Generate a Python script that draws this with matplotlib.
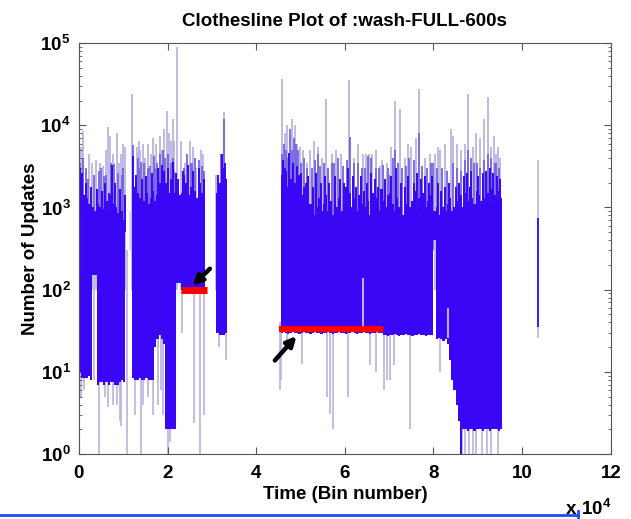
import numpy as np
import matplotlib.pyplot as plt
from matplotlib.ticker import FixedLocator, FuncFormatter, LogLocator, NullFormatter
from matplotlib.lines import Line2D

plt.rcParams['font.family'] = ['Liberation Sans', 'DejaVu Sans']
plt.rcParams['mathtext.fontset'] = 'custom'
plt.rcParams['mathtext.rm'] = 'Liberation Sans'
plt.rcParams['mathtext.bf'] = 'Liberation Sans:bold'

# x in units of 10^4 bins, dense band sampled every 0.05
step = 0.05

# segment start positions
seg_starts = [0.0, 1.20, 3.10, 4.55]

# dense band tops / bottoms per segment
hi_a = [2200, 1600, 1400, 1300, 1100, 1200, 1000, 900, 1100, 1000, 800,
        950, 1200, 900, 1400, 1100, 1000, 850, 1200, 900, 700]
lo_a = [10, 8.5, 8.5, 8.5, 9, 8, 150, 150, 7, 7.5, 7.5,
        7, 7.5, 7, 7.5, 7.5, 7, 7, 7.5, 8, 7.5]

hi_b = [2500, 1800, 1500, 1300, 1400, 1200, 1500, 1100, 1300, 1600,
        1200, 1400, 2000, 1800, 2500, 2000, 1500, 2200, 1700, 1500, 1800, 1400,
        1500, 2500, 2000, 1400, 1800, 2200, 1600, 1300, 2000, 1500, 1200]
lo_b = [8.5, 8, 8, 8.5, 8, 8, 8.5, 8, 8, 8,
        20, 25, 28, 25, 22, 2, 2, 2, 2, 2, 120, 120,
        100, 100, 100, 100, 100, 100, 100, 100, 100, 100, 100]

hi_d = [1500, 2000, 2500, 3000, 2200]
lo_d = [30, 28, 28, 28, 30]

hi_e = [2500, 2000, 2800,
        1800, 2200, 1500, 2000, 1600, 2500, 1400, 1800,
        1200, 900, 1100, 1500, 800, 1000, 1300, 900, 1100, 1400,
        900, 1200, 800, 1600, 1000, 1300, 900, 1100,
        1800, 1200, 1500, 1000, 1300, 900, 1400, 1100, 1600, 1000,
        1200, 800, 1500, 1100, 1300, 900, 1700, 1200, 1000, 1400,
        1500, 1100, 900, 1300, 1000, 1200, 800, 1100, 1400, 1000,
        1200, 1600, 900, 1300, 1100, 1500, 1000, 1200, 1400, 1100,
        900, 1000, 800, 1200, 1000, 900, 1100, 1300, 900, 1000, 1200, 1100, 1400, 1000,
        1500, 1200, 1800, 1300, 1100, 1600, 1400, 1200, 1900, 1300, 1500, 1100,
        1700, 1400, 1200, 1600, 1300]
lo_e = [30, 31, 30, 29, 30, 31, 30, 30, 29, 30,
        31, 30, 30, 29, 30, 31, 30, 30, 29, 30,
        30, 31, 30, 29, 30, 30, 31, 30, 30, 29,
        30, 30, 31, 30, 29, 30, 30, 31, 30, 30,
        29, 30, 30, 31, 30, 30, 28, 28, 27, 28,
        28, 29, 28, 27, 28, 28, 29, 28, 28, 27,
        28, 28, 29, 28, 28, 27, 28, 28, 28,
        400, 25, 26, 25, 24, 25, 22, 14, 8, 6, 4, 2.5,
        1, 2, 2, 1.9, 2, 2, 1.9, 2, 2, 2,
        1.9, 2, 2, 1.9, 2, 2, 2, 1.9, 2]

# dark single columns poking above the band
peak_x = [0.02, 0.08, 0.17, 0.27, 0.41, 0.52, 0.58, 0.68, 0.74, 0.82, 0.93, 1.03,
          1.22, 1.28, 1.42, 1.52, 1.66, 1.78, 1.88, 1.93, 2.02, 2.12, 2.18, 2.24,
          2.34, 2.46, 2.58, 2.71, 2.83, 3.14, 3.24, 3.30,
          4.60, 4.66, 4.74, 4.82, 4.92, 5.02, 5.12, 5.18, 5.28, 5.36, 5.46, 5.55,
          5.64, 5.78, 5.88, 5.98, 6.08, 6.18, 6.26, 6.36, 6.50, 6.58, 6.68, 6.75,
          6.90, 7.05, 7.16, 7.26, 7.35, 7.42, 7.55, 7.62, 7.72, 7.80, 7.90, 7.96,
          8.10, 8.18, 8.27, 8.36, 8.50, 8.58, 8.68, 8.75, 8.85, 9.00, 9.12, 9.18,
          9.27, 9.35, 9.44, 9.51]
peak_top = [3000, 2600, 2000, 1800, 1700, 1600, 2000, 1500, 3300, 2000, 1700, 1400,
            4200, 2500, 2200, 2400, 2600, 3000, 3300, 2800, 3000, 3600, 2600, 2200,
            2800, 3300, 2800, 3000, 2200, 2500, 4500, 3500,
            3800, 3000, 4600, 3500, 3200, 2600, 2000, 2400, 1800, 2600, 2000, 2400,
            2000, 2400, 2200, 2000, 3000, 2400, 1800, 2400, 2000, 2600, 2200, 1800,
            2200, 2400, 3000, 2000, 1800, 2400, 2000, 2600, 2200, 2400, 2000, 2400,
            2000, 1600, 1800, 2000, 1800, 2000, 2400, 2600, 2800, 2400, 2600, 2800,
            3000, 2600, 2400, 2200]

# medium-density columns above the band
mid_x = [0.03, 0.10, 0.15, 0.20, 0.33, 0.45, 0.50, 0.57, 0.62, 0.72, 0.80, 0.88, 0.97, 1.00,
         1.23, 1.33, 1.35, 1.40, 1.48, 1.57, 1.60, 1.69, 1.72, 1.77, 1.83, 1.90,
         1.95, 2.00, 2.08, 2.12, 2.15,
         2.38, 2.43, 2.52, 2.56, 2.63, 2.70, 2.78, 2.82, 3.20, 3.27,
         4.58, 4.63, 4.68, 4.72, 4.76, 4.80, 4.86, 4.90, 4.95, 5.00, 5.08, 5.15,
         5.25, 5.32, 5.40, 5.45, 5.52, 5.62, 5.70, 5.76, 5.85, 5.95, 6.04, 6.11,
         6.20, 6.30, 6.38, 6.45, 6.52, 6.60, 6.70, 6.78, 6.85, 6.97, 7.00, 7.08,
         7.13, 7.20, 7.30, 7.38, 7.45, 7.55, 7.67, 7.75, 7.85, 7.95, 8.00, 8.08,
         8.20, 8.30, 8.45, 8.52, 8.62, 8.70, 8.78, 8.85, 8.92, 8.98, 9.05, 9.15,
         9.23, 9.30, 9.38, 9.42, 9.48]
mid_top = [3500, 4000, 3000, 2200, 2500, 2800, 3000, 2400, 2500, 3500, 3400, 2600, 2500, 3000,
           5800, 4000, 3000, 3600, 3500, 3000, 3200, 4200, 3000, 3500, 4500, 5000,
           4000, 4500, 3500, 4000, 2800,
           3000, 4500, 3500, 3500, 4000, 3800, 3200, 2800, 4500, 12000,
           4500, 6000, 5000, 4000, 9000, 5000, 7000, 6000, 5000, 3500, 4000, 3000,
           3000, 3800, 4500, 3200, 3500, 3000, 3500, 3500, 4000, 3200, 3800, 7200,
           3500, 3500, 3000, 3000, 4200, 4000, 3000, 3000, 3300, 3000, 2500, 4000,
           5000, 3500, 3000, 3200, 4000, 3800, 8000, 3200, 3000, 3500, 3500, 3000,
           3000, 2800, 3500, 3000, 2800, 3800, 5000, 4000, 3500, 3500, 3000, 3800,
           4500, 4000, 3500, 3500, 3000]

# single light spikes upward
spike_x = [0.05, 0.10, 0.22, 0.30, 0.38, 0.48, 0.55, 0.62, 0.65, 0.70, 0.78, 0.85,
           0.90, 0.95, 1.00, 1.05,
           1.20, 1.30, 1.35, 1.38, 1.45, 1.50, 1.55, 1.62, 1.68, 1.75, 1.82, 1.88,
           1.92, 1.98, 2.03, 2.08, 2.12, 2.15, 2.21,
           2.30, 2.40, 2.50, 2.58, 2.65, 2.75, 2.80, 3.10, 3.28,
           4.58, 4.65, 4.70, 4.80, 4.88, 4.92, 4.98, 5.05, 5.15, 5.22, 5.31, 5.40,
           5.48, 5.58, 5.72, 5.80, 5.92, 6.10, 6.20, 6.30, 6.40, 6.48, 6.55, 6.62,
           6.70, 6.80, 6.83, 6.95, 7.05, 7.13, 7.24, 7.35, 7.42, 7.50, 7.60, 7.67,
           7.80, 7.92, 8.03, 8.10, 8.15, 8.25, 8.40, 8.44, 8.53, 8.62, 8.70, 8.78,
           8.88, 8.95, 9.05, 9.15, 9.23, 9.30, 9.36, 9.40, 9.45, 9.50]
spike_top = [5500, 8500, 4500, 3500, 3800, 3500, 3200, 5000, 9500, 7500, 4500, 8000,
             3500, 4500, 6000, 5500,
             24000, 5500, 6500, 5000, 6000, 4000, 6000, 4500, 7000, 6000, 7500, 5000,
             9000, 15000, 8000, 6500, 12000, 6500, 90000,
             6500, 3500, 6500, 5500, 3000, 5000, 4500, 2500, 14500,
             37000, 8000, 10000, 12000, 10000, 6000, 5500, 5000, 3500, 5000, 6500, 5500,
             4000, 21000, 4500, 5000, 4500, 36000, 4000, 6000, 4500, 4500, 4500, 4500,
             5000, 3200, 3800, 3500, 5500, 19500, 16000, 4000, 6000, 5500, 7000, 28000,
             4000, 4500, 4500, 5500, 5000, 6000, 9000, 7500, 6000, 5000, 6000, 24000,
             5500, 8000, 7000, 12000, 22000, 5500, 7500, 4500, 5500, 4000]

# single light spikes downward (start at band bottom)
dip_x = [0.04, 0.12, 0.35, 0.46, 0.60, 0.66, 0.78, 0.85, 0.92, 0.96, 1.08,
         1.26, 1.41, 1.45, 1.55, 1.68, 1.79, 1.86, 1.90, 2.00, 2.05,
         2.33, 2.60, 2.73, 2.82, 3.15, 3.33,
         4.53, 4.57, 4.70, 5.04, 5.59, 5.66, 5.74, 6.06, 6.56, 6.71, 6.88,
         6.94, 7.01, 7.10, 7.47, 8.14,
         8.65, 8.72, 8.80, 8.90, 8.97, 9.10, 9.20, 9.30, 9.45]
dip_top = [30, 30, 150, 30, 30, 30, 30, 30, 30, 30, 300,
           30, 30, 30, 30, 30, 50, 50, 50, 30, 30,
           100, 100, 100, 100, 40, 40,
           40, 40, 40, 40, 40, 40, 40, 40, 40, 40, 40,
           40, 40, 40, 40, 40,
           5, 5, 5, 5, 5, 5, 5, 5, 5]
dip_bot = [5, 6, 8, 0.9, 5, 3.7, 4, 4, 2.5, 2.2, 0.9,
           3, 0.9, 4, 5, 3, 4, 6, 3, 0.9, 1.4,
           30, 2.4, 0.9, 3, 20, 14,
           6, 8, 20, 12.6, 5, 3.1, 2, 5, 12, 10, 6,
           8, 8, 12, 2, 10,
           0.9, 0.9, 0.9, 0.9, 0.9, 0.9, 0.9, 0.9, 0.9]

# thin pale streaks inside the dense band
inner_x = [6.42, 8.33, 1.15]
inner_lo = [33, 26, 300]
inner_hi = [140, 60, 900]

# isolated column near 10.35e4
lone_x = 10.35
lone_dark = [35, 750]
lone_light = [26, 3800]

# red markers
red1_x = [2.30, 2.88]
red1_y = [100, 100]
red2_x = [4.51, 6.86]
red2_y = [33, 33]

dark = '#3a06f6'
mid = '#7464e4'
light = '#bab3e3'

fig = plt.figure(figsize=(6.31, 5.19), dpi=100)
ax = fig.add_axes([0.125, 0.125, 0.843, 0.792])
ax.set_yscale('log')

# light lines below, dense band on top
ax.vlines(spike_x, [100] * len(spike_x), spike_top, color=light, lw=1.3, zorder=1)
ax.vlines(dip_x, dip_bot, dip_top, color=light, lw=1.2, zorder=1)
ax.vlines(lone_x, lone_light[0], lone_light[1], color=light, lw=1.2, zorder=1)
ax.vlines(mid_x, [300] * len(mid_x), mid_top, color=mid, lw=1.3, zorder=1.5)

segs = [(hi_a, lo_a), (hi_b, lo_b), (hi_d, lo_d), (hi_e, lo_e)]
for start, (hi, lo) in zip(seg_starts, segs):
    xs = start + step * np.arange(len(hi))
    ax.bar(xs, np.array(hi) - np.array(lo), bottom=lo, width=step,
           align='edge', color=dark, lw=0, antialiased=False, zorder=2)
ax.vlines(peak_x, [500] * len(peak_x), peak_top, color=dark, lw=1.4, zorder=2)
ax.vlines(inner_x, inner_lo, inner_hi, color='#d8d3f2', lw=1.2, zorder=2.2)
ax.vlines(lone_x, lone_dark[0], lone_dark[1], color=dark, lw=1.3, zorder=2)

ax.plot(red1_x, red1_y, color='#ff0000', lw=5, solid_capstyle='butt', zorder=3)
ax.plot(red2_x, red2_y, color='#ff0000', lw=4.5, solid_capstyle='butt', zorder=3)

arrow = dict(arrowstyle='-|>', lw=3.2, color='black', mutation_scale=14)
ax.annotate('', xy=(2.52, 106), xytext=(3.0, 190), arrowprops=arrow, zorder=4)
ax.annotate('', xy=(4.95, 29), xytext=(4.38, 13), arrowprops=arrow, zorder=4)

ax.set_xlim(0, 12)
ax.set_ylim(1, 1e5)
ax.xaxis.set_major_locator(FixedLocator([0, 2, 4, 6, 8, 10, 12]))
ax.xaxis.set_major_formatter(FuncFormatter(lambda v, p: '%d' % v))
ax.yaxis.set_major_locator(FixedLocator([1, 10, 100, 1000, 1e4, 1e5]))
ax.yaxis.set_major_formatter(FuncFormatter(
    lambda v, p: r'$\mathbf{10^{%d}}$' % round(np.log10(v))))
ax.yaxis.set_minor_locator(LogLocator(base=10, subs=np.arange(2, 10)))
ax.yaxis.set_minor_formatter(NullFormatter())

ax.tick_params(which='both', direction='in', top=True, right=True,
               color='#555555')
ax.tick_params(which='major', length=5, labelsize=13.5)
ax.tick_params(axis='x', which='major', pad=8)
ax.tick_params(axis='y', which='major', pad=6)
ax.tick_params(which='minor', length=2.5)
for lab in ax.get_xticklabels():
    lab.set_fontweight('bold')
for s in ax.spines.values():
    s.set_color('#555555')
    s.set_zorder(5)

ax.set_title('Clothesline Plot of :wash-FULL-600s', fontsize=13.5,
             fontweight='bold', pad=12)
ax.set_xlabel('Time (Bin number)', fontsize=13.5, fontweight='bold', labelpad=3)
ax.set_ylabel('Number of Updates', fontsize=13.5, fontweight='bold', labelpad=1)

fig.text(0.895, 0.0, r'$\mathbf{x\ 10^{4}}$', fontsize=13.5, ha='left',
         va='bottom')

# screenshot edge line at the bottom
fig.add_artist(Line2D([0, 578 / 631], [4 / 519, 4 / 519],
                      transform=fig.transFigure, color='#1f4cff', lw=2))
fig.add_artist(Line2D([578 / 631, 578 / 631], [1 / 519, 8 / 519],
                      transform=fig.transFigure, color='#1f4cff', lw=2))

fig.savefig('out.png', dpi=100)
